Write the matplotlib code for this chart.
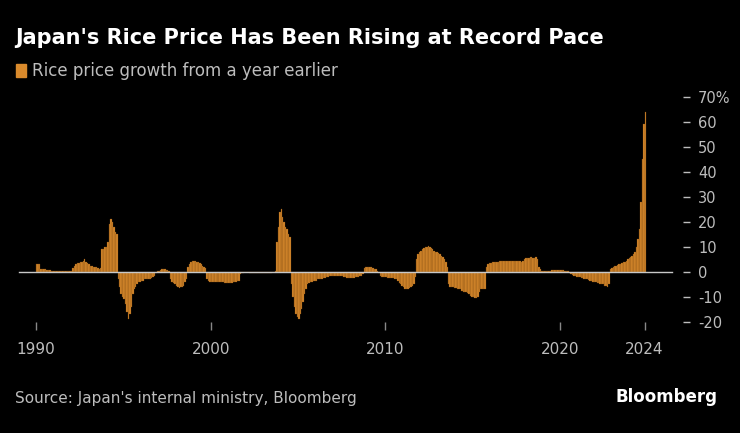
import numpy as np
import matplotlib
matplotlib.use("Agg")
import matplotlib.pyplot as plt

# monthly year-on-year rice price growth (%), Jan 1990 .. Nov 2024
g1990 = [3, 3, 3, 1, 1, 1, 1, 0.8, 0.8, 0.8, 0.5, 0.5]
g1991 = [0.3, 0.3, 0.3, 0.2, 0.2, 0.2, 0.2, 0.2, 0.2, 0.2, 0.2, 0.2]
g1992 = [0.3, 1.5, 2.5, 3, 3.5, 3.6, 3.8, 4, 4.2, 5, 4, 3.5]
g1993 = [3, 2.5, 2.5, 2, 2, 1.8, 1.5, 1.2, 1.5, 9, 9, 10]
g1994 = [10, 12, 19, 21, 20, 18, 16, 15, -3, -6, -9, -10]
g1995 = [-11, -13, -16, -19, -17, -14, -9, -7, -6, -5, -4, -4]
g1996 = [-3.5, -3.5, -3, -3, -3, -3, -3, -2.5, -2, -1.5, -0.5, 0.3]
g1997 = [0.5, 0.8, 1, 1, 1, 0.8, 0.6, 0.3, -3, -4, -4.5, -5]
g1998 = [-5.5, -6, -6.5, -6, -6, -5.5, -4, -3, 2, 3, 4, 4.5]
g1999 = [4.5, 4.2, 4, 3.8, 3.5, 3, 2.5, 2, 1.5, -3, -3.5, -4]
g2000 = [-4, -4, -4.2, -4, -4, -4, -4, -4, -4, -4.5, -4.5, -4.5]
g2001 = [-4.5, -4.5, -4.5, -4.2, -4, -4, -3.8, -3.5, -1, -0.5, -0.3, -0.2]
g2002 = [-0.2, -0.2, -0.3, -0.3, -0.3, -0.3, -0.3, -0.5, -0.6, -0.6, -0.5, -0.5]
g2003 = [-0.5, -0.5, -0.4, -0.4, -0.4, -0.3, -0.2, -0.2, 0.2, 12, 18, 24]
g2004 = [25, 22, 20, 18, 17, 15, 14, -5, -10, -14, -17, -18]
g2005 = [-19, -17, -15, -12, -9, -7, -5, -4.5, -4, -4, -3.5, -3.5]
g2006 = [-3.5, -3, -3, -3, -3, -2.5, -2.5, -2, -2, -1.5, -1.5, -1.5]
g2007 = [-1.5, -1.5, -1.5, -1.5, -1.5, -1.5, -1.8, -2, -2.2, -2.5, -2.5, -2.5]
g2008 = [-2.5, -2.5, -2.5, -2.2, -2, -2, -1.8, -1.5, -1, 1.5, 2, 2]
g2009 = [2, 2, 1.8, 1.5, 1.2, 1, 0.5, -0.5, -1.5, -2, -2, -2]
g2010 = [-2.2, -2.5, -2.5, -2.5, -2.5, -2.5, -3, -3, -3.5, -4.5, -5, -5.5]
g2011 = [-6, -7, -7, -7, -6.5, -6, -5.5, -5, -2, 5, 7, 8]
g2012 = [8.5, 9, 9.5, 10, 10, 10.5, 10, 9.5, 9, 8.5, 8, 8]
g2013 = [7.5, 7, 6.5, 6, 5, 4, 2, -5, -6, -6, -6, -6.5]
g2014 = [-6.5, -7, -7, -7, -7.5, -8, -8, -8, -8.5, -9, -9.5, -10]
g2015 = [-10, -10.5, -10.5, -10, -8, -7, -7, -7, -7, 2, 3, 3.5]
g2016 = [3.5, 4, 4, 4, 4, 4, 4.2, 4.2, 4.5, 4.5, 4.5, 4.5]
g2017 = [4.5, 4.5, 4.5, 4.5, 4.5, 4.5, 4.5, 4.5, 4.2, 4, 4.5, 5]
g2018 = [5.5, 5.5, 5.5, 6, 6, 5.5, 5.5, 6, 5, 2, 1, 0.5]
g2019 = [0.3, 0.2, 0.2, 0.2, 0.2, 0.5, 0.8, 0.8, 0.8, 0.8, 0.8, 0.8]
g2020 = [0.8, 0.8, 0.6, 0.5, 0.3, 0.2, -0.5, -1, -1.2, -1.5, -1.8, -2]
g2021 = [-2, -2.2, -2.5, -2.5, -3, -3, -3, -3.2, -3.5, -3.5, -4, -4]
g2022 = [-4, -4.5, -4.5, -5, -5, -5, -5.5, -5.5, -6, -5, 1, 1.5]
g2023 = [2, 2.2, 2.5, 2.8, 3, 3.2, 3.5, 4, 4, 4.5, 5, 5.5]
g2024 = [6, 6.5, 7, 8, 10, 13, 17, 28, 45, 59, 64]

growth = (g1990 + g1991 + g1992 + g1993 + g1994 + g1995 + g1996 + g1997 + g1998
          + g1999 + g2000 + g2001 + g2002 + g2003 + g2004 + g2005 + g2006 + g2007
          + g2008 + g2009 + g2010 + g2011 + g2012 + g2013 + g2014 + g2015 + g2016
          + g2017 + g2018 + g2019 + g2020 + g2021 + g2022 + g2023 + g2024)
dates = 1990 + np.arange(len(growth)) / 12.0

xtick_pos = [1990, 2000, 2010, 2020, dates[-1]]
xtick_labels = ["1990", "2000", "2010", "2020", "2024"]
yticks = [-20, -10, 0, 10, 20, 30, 40, 50, 60, 70]
ytick_labels = ["-20", "-10", "0", "10", "20", "30", "40", "50", "60", "70%"]

orange = "#d98a2c"
grey = "#bdbdbd"

fig = plt.figure(figsize=(7.4, 4.33), dpi=100, facecolor="black")
ax = fig.add_axes([0.0243, 0.2379, 0.8986, 0.5497], facecolor="black")

ax.bar(dates, growth, width=1 / 12.0, color=orange, edgecolor="#7a4a12",
       linewidth=0.2, align="edge")
ax.plot([1989.0, 2026.4], [0, 0], color="#c8c8c8", lw=1)

ax.set_xlim(1988.97, 2027.03)
ax.set_ylim(-23.2, 72)
for s in ax.spines.values():
    s.set_visible(False)

ax.set_xticks(xtick_pos)
ax.set_xticklabels(xtick_labels)
ax.tick_params(axis="x", direction="in", length=6, width=1, color="#888888",
               pad=9, labelsize=11, labelcolor=grey)
ax.yaxis.tick_right()
ax.set_yticks(yticks)
ax.set_yticklabels(ytick_labels)
ax.tick_params(axis="y", direction="out", length=5, width=1, color=grey,
               pad=6, labelsize=10.5, labelcolor=grey)
for lab in ax.get_yticklabels():
    lab.set_horizontalalignment("left")

fig.text(0.02, 0.912, "Japan's Rice Price Has Been Rising at Record Pace",
         color="white", fontsize=15, fontweight="bold", va="center")
fig.patches.append(plt.Rectangle((0.022, 0.822), 0.0125, 0.03,
                                 transform=fig.transFigure, color=orange))
fig.text(0.043, 0.835, "Rice price growth from a year earlier", color=grey,
         fontsize=12, va="center")
fig.text(0.02, 0.08, "Source: Japan's internal ministry, Bloomberg",
         color=grey, fontsize=11, va="center")
fig.text(0.97, 0.083, "Bloomberg", color="white", fontsize=12,
         fontweight="bold", va="center", ha="right")

fig.savefig("out.png", dpi=100, facecolor="black")
